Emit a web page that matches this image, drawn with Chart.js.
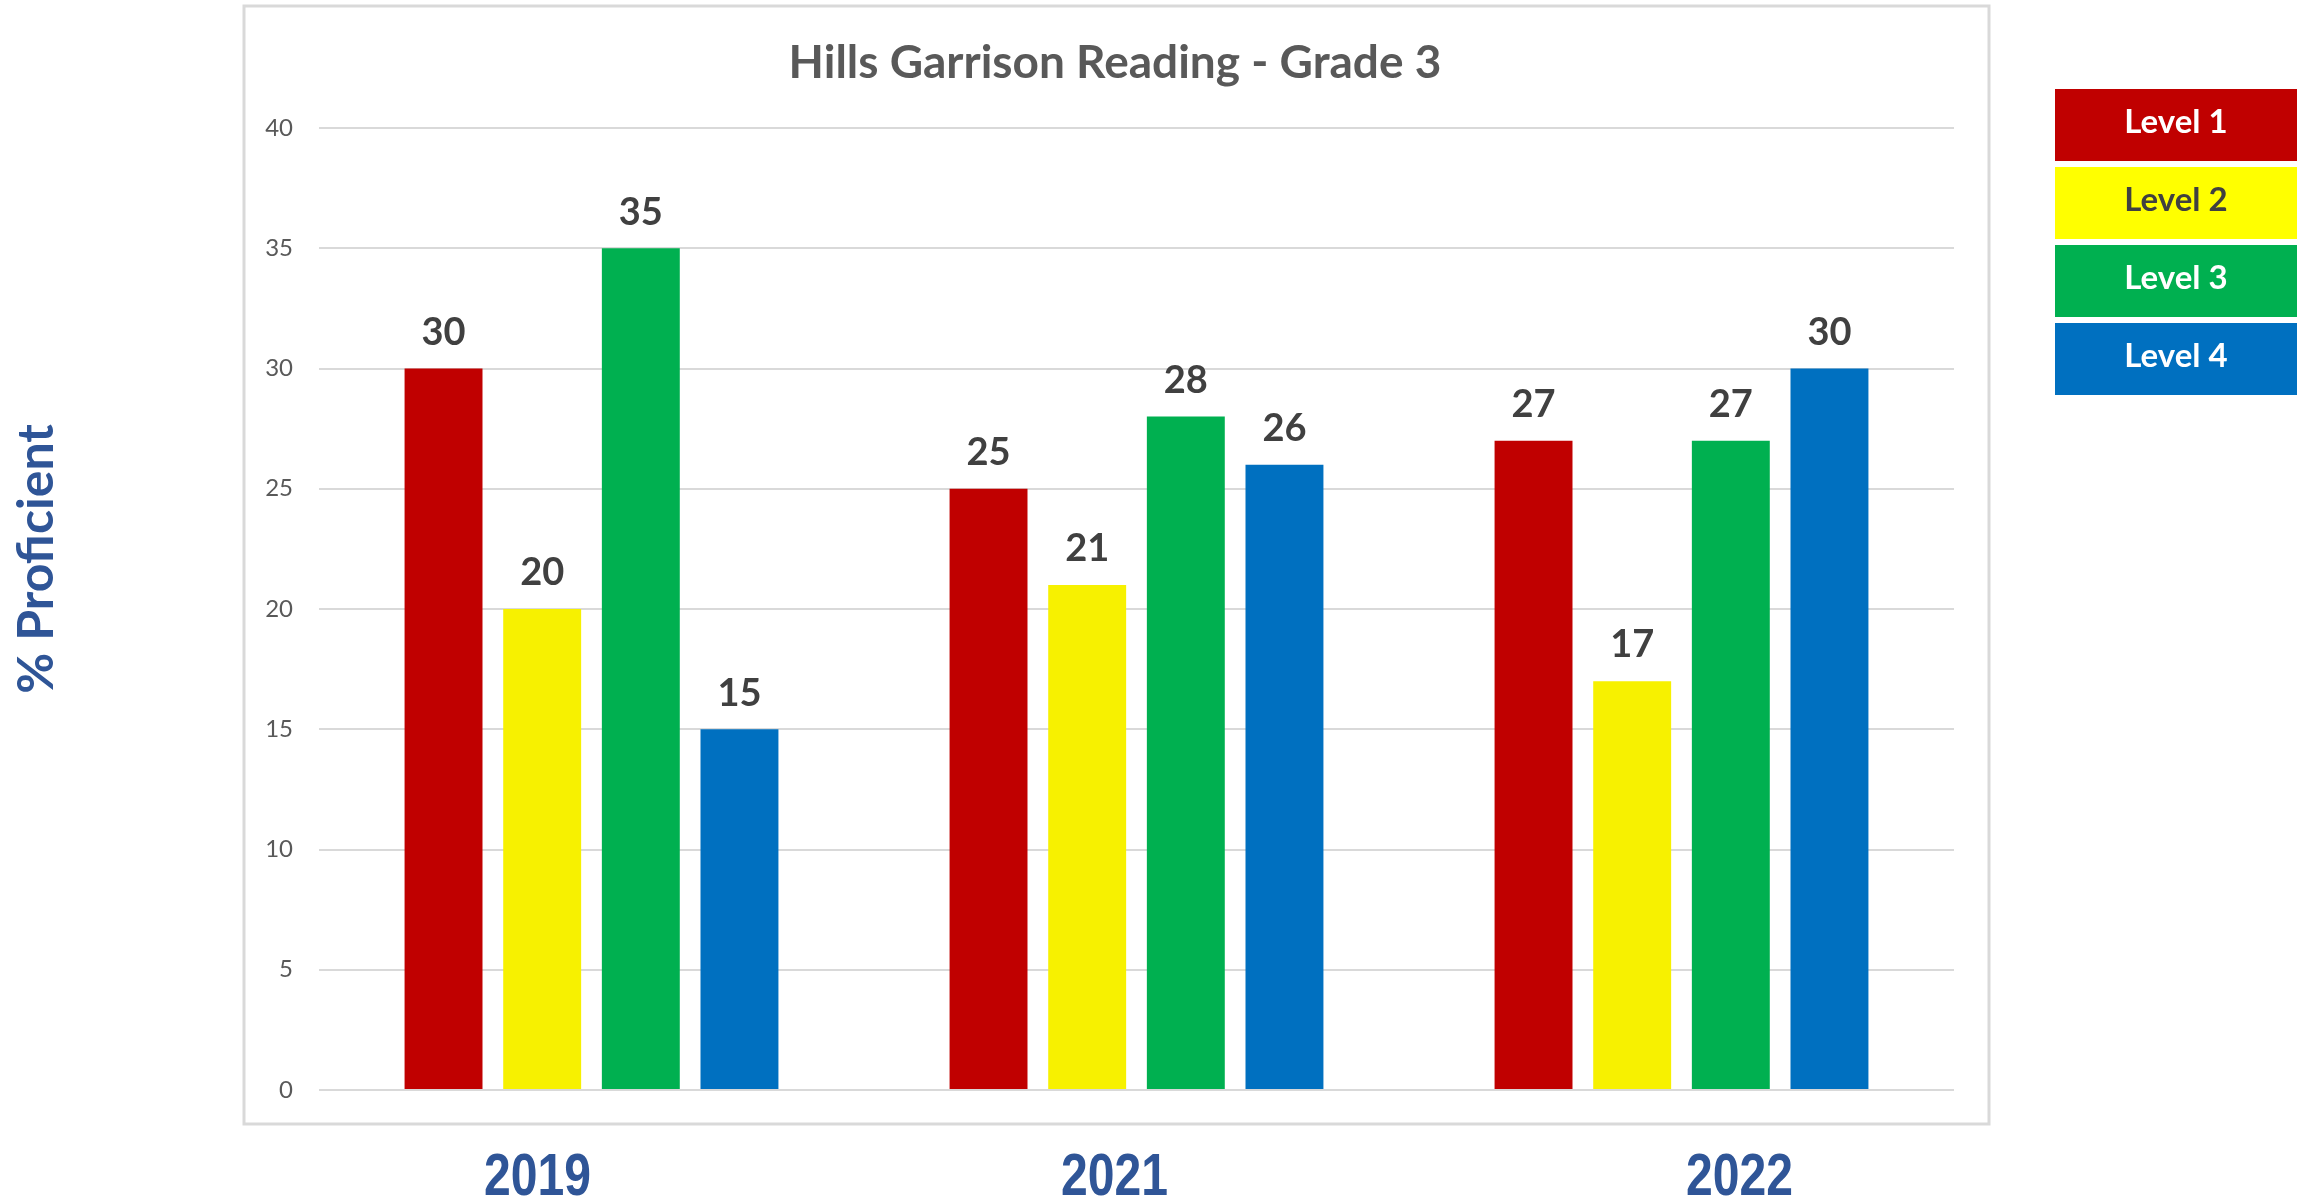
<!DOCTYPE html>
<html>
<head>
<meta charset="utf-8">
<script src="https://cdn.jsdelivr.net/npm/chart.js@4"></script>
<style>
  html, body { margin: 0; padding: 0; background: #fff; }
  canvas { display: block; }
</style>
</head>
<body>
<canvas id="readingChart" width="2307" height="1198"></canvas>
<script>
const years = ['2019', '2021', '2022'];
const levels = ['Level 1', 'Level 2', 'Level 3', 'Level 4'];
const level1 = [30, 25, 27];
const level2 = [20, 21, 17];
const level3 = [35, 28, 27];
const level4 = [15, 26, 30];
const yTicks = [0, 5, 10, 15, 20, 25, 30, 35, 40];

const barColors = ['#C00000', '#F7F100', '#00B050', '#0070C0'];
const keyColors = ['#C00000', '#FFFF00', '#00B050', '#0070C0'];
const keyText = ['#FFFFFF', '#404040', '#FFFFFF', '#FFFFFF'];

// year captions sit a little off the group centres in the original
const yearShift = [-54, -22, 58];

const extras = {
  id: 'extras',
  beforeDraw(chart) {
    const ctx = chart.ctx;
    ctx.save();
    ctx.strokeStyle = '#D9D9D9';
    ctx.lineWidth = 3;
    ctx.strokeRect(244, 6, 1745, 1118);

    ctx.fillStyle = '#595959';
    ctx.font = 'bold 46px Lato';
    ctx.textAlign = 'center';
    ctx.textBaseline = 'middle';
    ctx.fillText('Hills Garrison Reading - Grade 3', 1115, 63);
    ctx.restore();
  },
  afterDatasetsDraw(chart) {
    const ctx = chart.ctx;
    ctx.save();
    ctx.fillStyle = '#404040';
    ctx.font = 'bold 38px Lato';
    ctx.textAlign = 'center';
    ctx.textBaseline = 'middle';
    chart.data.datasets.forEach((ds, i) => {
      chart.getDatasetMeta(i).data.forEach((bar, j) => {
        ctx.fillText(String(ds.data[j]), bar.x, bar.y - 36);
      });
    });
    ctx.restore();
  },
  afterDraw(chart) {
    const ctx = chart.ctx;
    const x = chart.scales.x;
    ctx.save();
    ctx.textAlign = 'center';
    ctx.textBaseline = 'middle';

    // year captions under the frame, squeezed to look like a narrow face
    ctx.fillStyle = '#2F5597';
    ctx.font = 'bold 60px "Liberation Sans Narrow", "Liberation Sans", sans-serif';
    years.forEach((y, i) => {
      const w = ctx.measureText(y).width;
      ctx.save();
      ctx.translate(x.getPixelForValue(i) + yearShift[i], 1178);
      ctx.scale(Math.min(1, 107 / w), 1);
      ctx.fillText(y, 0, 0);
      ctx.restore();
    });

    // axis title
    ctx.save();
    ctx.translate(37, 559);
    ctx.rotate(-Math.PI / 2);
    ctx.font = 'bold 50px Lato';
    ctx.fillText('% Proficient', 0, 0);
    ctx.restore();

    // coloured key boxes
    levels.forEach((name, i) => {
      const top = 89 + i * 78;
      ctx.fillStyle = keyColors[i];
      ctx.fillRect(2055, top, 242, 72);
      ctx.fillStyle = keyText[i];
      ctx.font = 'bold 33px Lato';
      ctx.fillText(name, 2055 + 121, top + 33);
    });
    ctx.restore();
  }
};

new Chart(document.getElementById('readingChart'), {
  type: 'bar',
  data: {
    labels: years,
    datasets: [level1, level2, level3, level4].map((vals, i) => ({
      label: levels[i],
      data: vals,
      backgroundColor: barColors[i],
      borderWidth: 0,
      categoryPercentage: 0.724,
      barPercentage: 0.79,
    })),
  },
  options: {
    responsive: false,
    devicePixelRatio: 1,
    animation: false,
    layout: { padding: { left: 219, right: 353, top: 128, bottom: 108 } },
    plugins: {
      legend: { display: false },
      title: { display: false },
      tooltip: { enabled: false },
    },
    scales: {
      x: { display: false },
      y: {
        min: 0,
        max: 40,
        afterFit(scale) { scale.width = 100; },
        afterBuildTicks(scale) { scale.ticks = yTicks.map(v => ({ value: v })); },
        ticks: {
          padding: 26,
          color: '#595959',
          font: { family: 'Lato', size: 24 },
        },
        grid: { color: '#D9D9D9', lineWidth: 2, drawTicks: false },
        border: { display: false },
      },
    },
  },
  plugins: [extras],
});
</script>
</body>
</html>
